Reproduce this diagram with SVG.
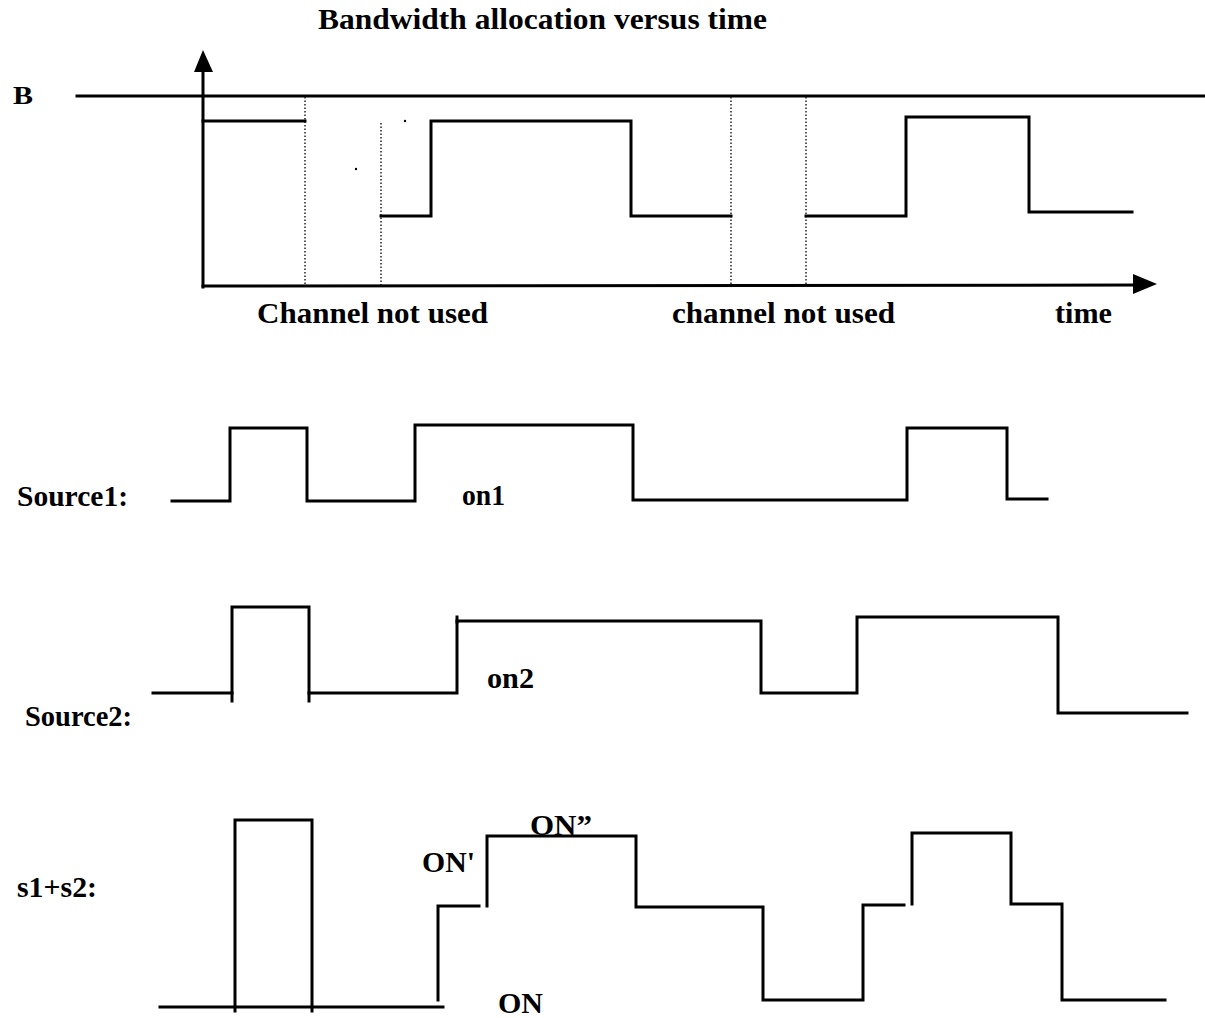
<svg xmlns="http://www.w3.org/2000/svg" width="1205" height="1018" viewBox="0 0 1205 1018">
<style>
.t{font-family:"Liberation Serif","Times New Roman",serif;font-weight:bold;font-size:30px;fill:#000}
.s{fill:none;stroke:#000;stroke-width:3;stroke-linejoin:miter;stroke-linecap:square}
.d{fill:none;stroke:#000;stroke-width:1.3;stroke-dasharray:1.5 2}
</style>
<rect width="1205" height="1018" fill="#fff"/>
<g id="title"><text class="t" x="318" y="29" textLength="449" lengthAdjust="spacingAndGlyphs">Bandwidth allocation  versus time</text></g>
<g id="chart-bandwidth">
  <text class="t" x="13" y="104" style="font-size:26px" textLength="20" lengthAdjust="spacingAndGlyphs">B</text>
  <line class="s" x1="77" y1="96" x2="1205" y2="96"/>
  <line class="s" x1="203" y1="70" x2="203" y2="287"/>
  <polygon points="203,50 194,72 213,72" fill="#000"/>
  <line class="s" x1="203" y1="286" x2="1136" y2="285"/>
  <polygon points="1157,284 1133,274 1133,294" fill="#000"/>
  <line class="d" x1="305" y1="97" x2="305" y2="286"/>
  <line class="d" x1="381" y1="123" x2="381" y2="286"/>
  <line class="d" x1="731" y1="97" x2="731" y2="286"/>
  <line class="d" x1="806" y1="97" x2="806" y2="285"/>
  <polyline class="s" points="203,121 305,121"/>
  <polyline class="s" points="381,216 431,216 431,121 631,121 631,216 731,216"/>
  <polyline class="s" points="806,216 906,216 906,117 1029,117 1029,212 1132,212"/>
  <circle cx="356" cy="169" r="1.2" fill="#000"/>
  <circle cx="405" cy="121" r="1.2" fill="#000"/>
  <text class="t" x="257" y="323" textLength="231" lengthAdjust="spacingAndGlyphs">Channel not used</text>
  <text class="t" x="672" y="323" textLength="223" lengthAdjust="spacingAndGlyphs">channel not used</text>
  <text class="t" x="1055" y="323" textLength="57" lengthAdjust="spacingAndGlyphs">time</text>
</g>
<g id="source1">
  <text class="t" x="17" y="506" textLength="111" lengthAdjust="spacingAndGlyphs">Source1:</text>
  <polyline class="s" points="172,501 230,501 230,428 307,428 307,501 415,501 415,425 633,425 633,500 907,500 907,428 1007,428 1007,499 1047,499"/>
  <text class="t" x="462" y="505" textLength="43" lengthAdjust="spacingAndGlyphs">on1</text>
</g>
<g id="source2">
  <text class="t" x="25" y="726" textLength="107" lengthAdjust="spacingAndGlyphs">Source2:</text>
  <polyline class="s" points="153,693 232,693 232,607 309,607 309,693 457,693 457,621 761,621 761,693 857,693 857,617 1058,617 1058,713 1187,713"/>
  <line class="s" x1="457" y1="617" x2="457" y2="622"/>
  <line class="s" x1="232" y1="693" x2="232" y2="701"/>
  <line class="s" x1="309" y1="693" x2="309" y2="701"/>
  <text class="t" x="487" y="688" textLength="47" lengthAdjust="spacingAndGlyphs">on2</text>
</g>
<g id="sum">
  <text class="t" x="17" y="897" textLength="80" lengthAdjust="spacingAndGlyphs">s1+s2:</text>
  <polyline class="s" points="160,1007 443,1007"/>
  <polyline class="s" points="235,1011 235,820 312,820 312,1011"/>
  <polyline class="s" points="438,1000 438,906 479,906"/>
  <polyline class="s" points="487,906 487,836 636,836 636,907 763,907 763,1000 863,1000 863,905 904,905"/>
  <polyline class="s" points="912,904 912,833 1011,833 1011,904 1062,904 1062,1000 1165,1000"/>
  <text class="t" x="422" y="872" textLength="53" lengthAdjust="spacingAndGlyphs">ON'</text>
  <text class="t" x="530" y="835" textLength="62" lengthAdjust="spacingAndGlyphs">ON”</text>
  <text class="t" x="498" y="1013" textLength="45" lengthAdjust="spacingAndGlyphs">ON</text>
</g>
</svg>
